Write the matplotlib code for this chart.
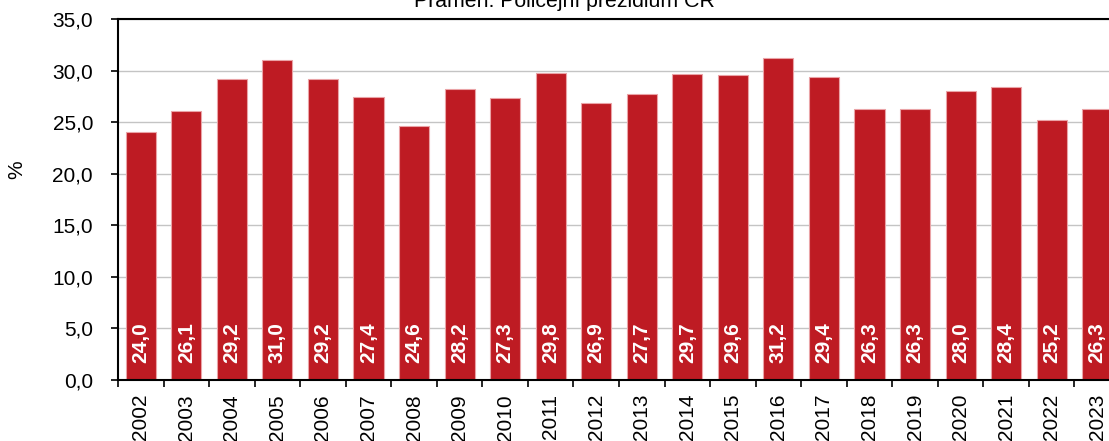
import matplotlib
matplotlib.use('Agg')
import matplotlib.pyplot as plt
import numpy as np

plt.rcParams['font.family'] = ['Liberation Sans', 'DejaVu Sans']

years = ['2002', '2003', '2004', '2005', '2006', '2007', '2008', '2009', '2010', '2011',
         '2012', '2013', '2014', '2015', '2016', '2017', '2018', '2019', '2020', '2021',
         '2022', '2023']
values = [24.0, 26.1, 29.2, 31.0, 29.2, 27.4, 24.6, 28.2, 27.3, 29.8,
          26.9, 27.7, 29.7, 29.6, 31.2, 29.4, 26.3, 26.3, 28.0, 28.4,
          25.2, 26.3]
yticks = [0, 5, 10, 15, 20, 25, 30, 35]

W, H = 1109, 441
fig = plt.figure(figsize=(W/100., H/100.), dpi=100)
# axes runs past the right edge, like the cropped original
ax = fig.add_axes([118./W, 61./H, 1002./W, 361./H])

x = np.arange(len(years))
ax.bar(x, values, width=0.66, color='#be1b23', edgecolor='#eaa3a6', linewidth=0.8, zorder=2)

for xi, v in zip(x, values):
    ax.text(xi, 1.6, ('%.1f' % v).replace('.', ','), rotation=90, ha='center', va='bottom',
            color='white', fontsize=15, fontweight='bold', zorder=3)

ax.set_xlim(-0.5, len(years) - 0.5)
ax.set_ylim(0, 35)
ax.set_yticks(yticks)
ax.set_yticklabels([('%.1f' % t).replace('.', ',') for t in yticks], fontsize=15)
ax.yaxis.grid(True, color='#c4c4c4', linewidth=1.0, zorder=0)
ax.set_axisbelow(True)

# x ticks sit between the bars, labels under the bars
ax.set_xticks(np.arange(len(years) + 1) - 0.5)
ax.set_xticklabels([])
ax.set_xticks(x, minor=True)
ax.set_xticklabels(years, minor=True, rotation=90, fontsize=15)
ax.tick_params(axis='x', which='minor', length=0, pad=10)
ax.tick_params(axis='x', which='major', length=5, width=1.2, direction='out')
ax.tick_params(axis='y', length=5, width=1.2, direction='out', pad=13)

for s in ['left', 'bottom', 'top', 'right']:
    ax.spines[s].set_linewidth(1.5)
    ax.spines[s].set_color('black')

fig.text(17./W, 1 - 170./H, '%', rotation=90, ha='center', va='center', fontsize=15)
fig.text(564./W, 1 - 7./H, 'Pramen: Policejní prezidium ČR', ha='center', va='baseline', fontsize=15.3)

fig.savefig('out.png', dpi=100)
